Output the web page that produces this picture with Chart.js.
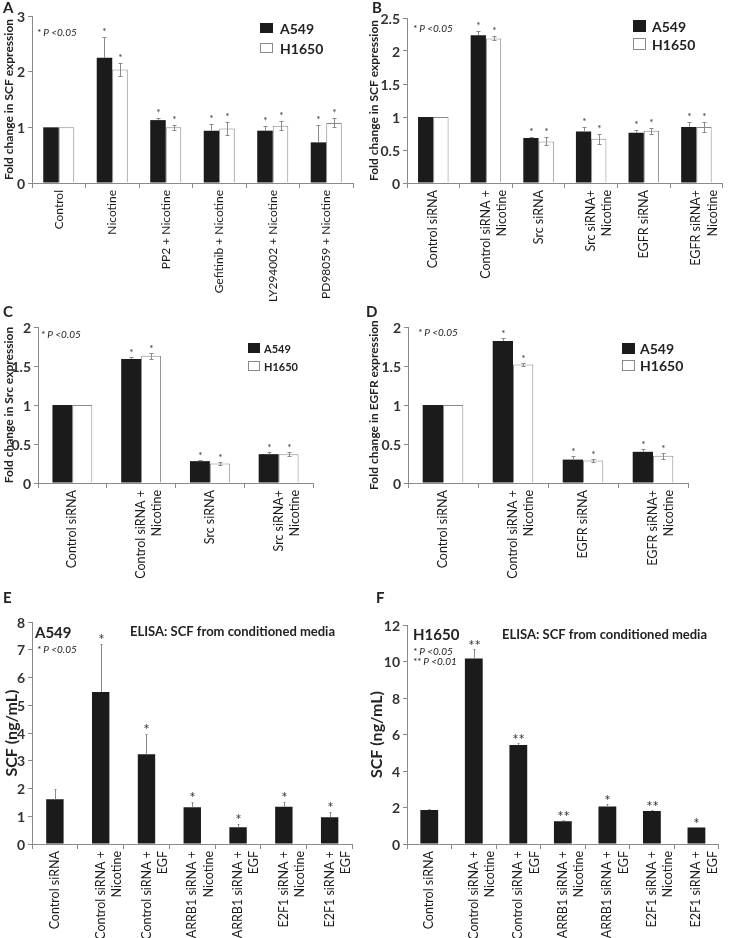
<!DOCTYPE html>
<html>
<head>
<meta charset="utf-8">
<script src="https://cdn.jsdelivr.net/npm/chart.js@4.4.1/dist/chart.umd.min.js"></script>
<style>
  body { margin: 0; background: #fff; width: 731px; height: 938px; position: relative; overflow: hidden; font-family: Lato, sans-serif; }
  .panel { position: absolute; line-height: 0; }
  .panel canvas { display: block; }
</style>
</head>
<body>
<script>
// ---- data ----
const aCats = ['Control', 'Nicotine', 'PP2 + Nicotine', 'Gefitinib + Nicotine', 'LY294002 + Nicotine', 'PD98059 + Nicotine']
const aA549 = [1, 2.25, 1.13, 0.94, 0.94, 0.73]
const aA549Err = [0, 0.38, 0.04, 0.12, 0.08, 0.31]
const aH1650 = [1, 2.04, 1.0, 0.98, 1.03, 1.08]
const aH1650Err = [0, 0.12, 0.05, 0.12, 0.08, 0.08]
const aSig = ['', '*', '*', '*', '*', '*']
const aTicks = [0, 1, 2, 3]

const bCats = ['Control siRNA', ['Control siRNA +', 'Nicotine'], 'Src siRNA', ['Src siRNA+', 'Nicotine'], 'EGFR siRNA', ['EGFR siRNA+', 'Nicotine']]
const bA549 = [1, 2.24, 0.68, 0.78, 0.76, 0.85]
const bA549Err = [0, 0.07, 0.02, 0.07, 0.05, 0.08]
const bH1650 = [1, 2.19, 0.63, 0.67, 0.79, 0.85]
const bH1650Err = [0, 0.03, 0.06, 0.08, 0.05, 0.07]
const bSig = ['', '*', '*', '*', '*', '*']
const bTicks = [0, 0.5, 1, 1.5, 2, 2.5]

const cCats = ['Control siRNA', ['Control siRNA +', 'Nicotine'], 'Src siRNA', ['Src siRNA+', 'Nicotine']]
const cA549 = [1, 1.59, 0.28, 0.37]
const cA549Err = [0, 0.02, 0.01, 0.03]
const cH1650 = [1, 1.63, 0.25, 0.37]
const cH1650Err = [0, 0.04, 0.02, 0.03]
const cSig = ['', '*', '*', '*']

const dCats = ['Control siRNA', ['Control siRNA +', 'Nicotine'], 'EGFR siRNA', ['EGFR siRNA+', 'Nicotine']]
const dA549 = [1, 1.82, 0.30, 0.40]
const dA549Err = [0, 0.04, 0.05, 0.04]
const dH1650 = [1, 1.52, 0.29, 0.35]
const dH1650Err = [0, 0.02, 0.02, 0.04]
const dSig = ['', '*', '*', '*']
const cdTicks = [0, 0.5, 1, 1.5, 2]

const elisaCats = ['Control siRNA', ['Control siRNA +', 'Nicotine'], ['Control siRNA +', 'EGF'], ['ARRB1 siRNA +', 'Nicotine'], ['ARRB1 siRNA +', 'EGF'], ['E2F1 siRNA +', 'Nicotine'], ['E2F1 siRNA +', 'EGF']]
const eSCF = [1.61, 5.48, 3.23, 1.32, 0.60, 1.34, 0.96]
const eErr = [0.36, 1.74, 0.73, 0.18, 0.12, 0.18, 0.18]
const eSig = ['', '*', '*', '*', '*', '*', '*']
const eTicks = [0, 1, 2, 3, 4, 5, 6, 7, 8]
const fSCF = [1.86, 10.17, 5.42, 1.24, 2.06, 1.81, 0.91]
const fErr = [0.04, 0.5, 0.1, 0.07, 0.13, 0.05, 0.04]
const fSig = ['', '**', '**', '**', '*', '**', '*']
const fTicks = [0, 2, 4, 6, 8, 10, 12]

const BLACK = '#1b1b1b'
const GREY = '#8a8a8a'

function black(data, err, sig) {
  return { data, err, sig, lowerErr: false, backgroundColor: BLACK, borderWidth: 0 }
}
function white(data, err, sig) {
  return { data, err, sig, lowerErr: true, backgroundColor: '#fff', borderColor: GREY, borderWidth: 1 }
}

// y tick labels, error bars, asterisks, notes, legend and panel letter
function makeExtras(p) {
  return {
    id: 'extras',
    afterDraw(chart) {
      const ctx = chart.ctx
      const y = chart.scales.y
      ctx.save()
      ctx.fillStyle = '#222'
      ctx.font = 'bold 15px Lato'
      ctx.textAlign = 'left'
      ctx.textBaseline = 'middle'
      ctx.fillText(p.letter[0], p.letter[1] - p.cx, p.letter[2] - p.cy)

      // y tick labels placed by the scale
      ctx.fillStyle = '#333'
      ctx.font = 'bold ' + p.yFont + 'px Lato'
      ctx.textAlign = 'right'
      p.ticks.forEach(v => ctx.fillText(String(v), y.right - 7, y.getPixelForValue(v) + 1))

      chart.data.datasets.forEach((ds, di) => {
        chart.getDatasetMeta(di).data.forEach((bar, i) => {
          const v = ds.data[i], e = ds.err[i]
          const x = Math.round(bar.x) + 0.5
          const top = Math.round(y.getPixelForValue(v + e)) + 0.5
          if (e > 0) {
            const bot = ds.lowerErr ? Math.round(y.getPixelForValue(v - e)) + 0.5 : bar.y
            ctx.strokeStyle = GREY
            ctx.lineWidth = 1
            ctx.beginPath()
            ctx.moveTo(x, top); ctx.lineTo(x, bot)
            ctx.moveTo(x - p.cap, top); ctx.lineTo(x + p.cap, top)
            if (ds.lowerErr) { ctx.moveTo(x - p.cap, bot); ctx.lineTo(x + p.cap, bot) }
            ctx.stroke()
          }
          if (ds.sig[i]) {
            ctx.fillStyle = '#333'
            ctx.font = p.starSize + 'px Lato'
            ctx.textAlign = 'center'
            ctx.textBaseline = 'alphabetic'
            ctx.fillText(ds.sig[i], x, top - p.starGap + 0.56 * p.starSize)
          }
        })
      })
      ctx.textAlign = 'left'
      ctx.textBaseline = 'middle'
      ctx.fillStyle = '#222'
      p.notes.forEach(n => {
        ctx.font = n.font
        ctx.fillText(n.text, n.x - p.cx, n.y - p.cy)
      })
      if (p.legend) {
        const L = p.legend
        ;[['A549', BLACK], ['H1650', '#fff']].forEach(([name, fill], k) => {
          const bx = L.x - p.cx, by = L.y - p.cy + k * L.gap
          ctx.fillStyle = fill
          ctx.fillRect(bx, by, L.w, L.h)
          if (k === 1) { ctx.strokeStyle = GREY; ctx.lineWidth = 1; ctx.strokeRect(bx + 0.5, by + 0.5, L.w - 1, L.h - 1) }
          ctx.fillStyle = '#222'
          ctx.font = L.font
          ctx.fillText(name, bx + L.w + L.tx, by + L.h / 2 + 1)
        })
      }
      ctx.restore()
    }
  }
}

function panel(p) {
  const box = document.createElement('div')
  box.className = 'panel'
  box.style.left = p.cx + 'px'
  box.style.top = p.cy + 'px'
  const cv = document.createElement('canvas')
  cv.width = p.cw
  cv.height = p.ch
  cv.style.width = p.cw + 'px'
  cv.style.height = p.ch + 'px'
  box.appendChild(cv)
  document.body.appendChild(box)

  new Chart(cv, {
    type: 'bar',
    data: { labels: p.labels, datasets: p.datasets },
    options: {
      responsive: false,
      animation: false,
      events: [],
      datasets: { bar: { categoryPercentage: p.catPct, barPercentage: 1 } },
      layout: { padding: { left: 0, top: p.at - p.cy, right: p.cx + p.cw - p.ar, bottom: 0 } },
      plugins: { legend: { display: false }, tooltip: { enabled: false } },
      scales: {
        x: {
          grid: { display: true, drawOnChartArea: false, tickLength: 5, color: GREY, offset: true },
          border: { color: GREY },
          ticks: { minRotation: 90, maxRotation: 90, autoSkip: false, color: '#1a1a1a', padding: 2,
                   font: { family: 'Lato', size: p.xFont, lineHeight: 1.3 } },
          afterFit: s => { s.height = p.cy + p.ch - p.ab }
        },
        y: {
          min: 0, max: p.ticks[p.ticks.length - 1],
          afterBuildTicks: s => { s.ticks = p.ticks.map(v => ({ value: v })) },
          ticks: { display: false },
          grid: { display: true, drawOnChartArea: false, tickLength: 4, color: GREY },
          border: { color: GREY },
          title: { display: true, text: p.ytitle, color: '#222', padding: { top: 2, bottom: 2 },
                   font: { family: 'Lato', size: p.titleFont, weight: 'bold' } },
          afterFit: s => { s.width = p.al - p.cx }
        }
      }
    },
    plugins: [makeExtras(p)]
  })
}

const pnote = (x, y, text) => ({ x, y, text, font: 'italic 10px Lato' })

panel({
  cx: 0, cy: 0, cw: 365, ch: 312, al: 32, at: 16, ar: 353, ab: 183, letter: ['A', 3, 8],
  labels: aCats, ticks: aTicks, catPct: 0.58,
  datasets: [black(aA549, aA549Err, aSig), white(aH1650, aH1650Err, aSig)],
  ytitle: 'Fold change in SCF expression', titleFont: 12, yFont: 14, xFont: 12,
  cap: 2, starSize: 10, starGap: 8,
  notes: [pnote(37, 33, '* P <0.05')],
  legend: { x: 260, y: 23, w: 13, h: 10, gap: 20, tx: 7, font: 'bold 14px Lato' }
})

panel({
  cx: 365, cy: 0, cw: 366, ch: 312, al: 407, at: 18, ar: 730, ab: 183, letter: ['B', 372, 8],
  labels: bCats, ticks: bTicks, catPct: 0.58,
  datasets: [black(bA549, bA549Err, bSig), white(bH1650, bH1650Err, bSig)],
  ytitle: 'Fold change in SCF expression', titleFont: 12, yFont: 14, xFont: 12.5,
  cap: 2, starSize: 10, starGap: 8,
  notes: [pnote(413, 29, '* P <0.05')],
  legend: { x: 633, y: 20, w: 13, h: 12, gap: 18, tx: 6, font: 'bold 14px Lato' }
})

panel({
  cx: 0, cy: 300, cw: 365, ch: 290, al: 38, at: 327, ar: 313, ab: 483, letter: ['C', 3, 312],
  labels: cCats, ticks: cdTicks, catPct: 0.58,
  datasets: [black(cA549, cA549Err, cSig), white(cH1650, cH1650Err, cSig)],
  ytitle: 'Fold change in Src expression', titleFont: 12, yFont: 14, xFont: 12.5,
  cap: 2, starSize: 10, starGap: 7,
  notes: [pnote(41, 335, '* P <0.05')],
  legend: { x: 248, y: 343, w: 12, h: 10, gap: 18, tx: 4, font: 'bold 11px Lato' }
})

panel({
  cx: 365, cy: 300, cw: 366, ch: 290, al: 408, at: 327, ar: 688, ab: 483, letter: ['D', 366, 312],
  labels: dCats, ticks: cdTicks, catPct: 0.58,
  datasets: [black(dA549, dA549Err, dSig), white(dH1650, dH1650Err, dSig)],
  ytitle: 'Fold change in EGFR expression', titleFont: 12, yFont: 14, xFont: 12.5,
  cap: 2, starSize: 10, starGap: 7,
  notes: [pnote(418, 333, '* P <0.05')],
  legend: { x: 622, y: 343, w: 13, h: 11, gap: 17, tx: 5, font: 'bold 14px Lato' }
})

panel({
  cx: 0, cy: 590, cw: 365, ch: 348, al: 32, at: 622, ar: 353, ab: 844, letter: ['E', 3, 598],
  labels: elisaCats, ticks: eTicks, catPct: 0.38,
  datasets: [black(eSCF, eErr, eSig)],
  ytitle: 'SCF (ng/mL)', titleFont: 16, yFont: 14, xFont: 12.5,
  cap: 1, starSize: 15, starGap: 8,
  notes: [
    { x: 35, y: 633, text: 'A549', font: 'bold 15px Lato' },
    pnote(37, 650, '* P <0.05'),
    { x: 130, y: 632, text: 'ELISA: SCF from conditioned media', font: 'bold 13px Lato' }
  ]
})

panel({
  cx: 365, cy: 590, cw: 366, ch: 348, al: 407, at: 625, ar: 730, ab: 844, letter: ['F', 376, 598],
  labels: elisaCats, ticks: fTicks, catPct: 0.4,
  datasets: [black(fSCF, fErr, fSig)],
  ytitle: 'SCF (ng/mL)', titleFont: 16, yFont: 14, xFont: 12.5,
  cap: 1, starSize: 15, starGap: 7,
  notes: [
    { x: 413, y: 635, text: 'H1650', font: 'bold 15px Lato' },
    pnote(413, 652, '* P <0.05'),
    pnote(413, 662, '** P <0.01'),
    { x: 502, y: 635, text: 'ELISA: SCF from conditioned media', font: 'bold 13px Lato' }
  ]
})
</script>
</body>
</html>
